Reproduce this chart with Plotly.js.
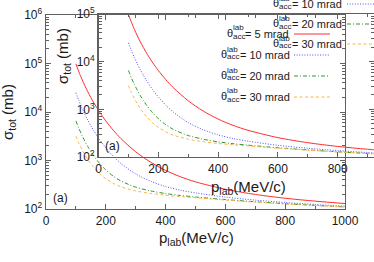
<!DOCTYPE html>
<html><head><meta charset="utf-8">
<script src="https://cdn.plot.ly/plotly-3.0.1.min.js"></script>
<style>html,body{margin:0;padding:0;background:#fff}#chart{width:374px;height:262px}</style>
</head><body><div id="chart"></div>
<script>
// ---- data ----
const pLab = [100,110,120,130,140,150,160,180,200,225,250,300,350,400,450,500,600,700,800,900,1000];
const sigma5  = [97960,67180,47640,34750,25990,19840,15430,9787,6545,4205,2858,1512,922,625,461,363,255,199.5,166.6,145.2,129.6];
const sigma10 = [24850,17120,12210,8958,6750,5197,4083,2648,1822,1223,876,528,373,291,244,215,176,152.6,136.2,124.1,114.2];
const sigma20 = [6541,4581,3332,2499,1933,1530,1241,860,639,476,380,282,236,208,190,177,156.5,140.9,128.5,118.8,110.3];
const sigma30 = [3157,2264,1692,1305,1042,852,715,529,420,338,288,236,210,192,180,170.5,152.9,138.7,127.1,117.8,109.6];
const thetaLabels = ['5','10','20','30'];
const yTickValsMain = [1e2,1e3,1e4,1e5,1e6];
const yTickTextMain = ['10<sup>2</sup>','10<sup>3</sup>','10<sup>4</sup>','10<sup>5</sup>','10<sup>6</sup>'];
const yTickValsInset = [1e2,1e3,1e4,1e5];
const yTickTextInset = ['10<sup>2</sup>','10<sup>3</sup>','10<sup>4</sup>','10<sup>5</sup>'];

// ---- styles ----
const W = 374, H = 262;
const px = x => x / W, py = y => 1 - y / H;
const FONT = 'Liberation Sans, Arial, sans-serif';
const AX = '#606060';
const TXT = '#1a1a1a';
const colors = ['rgb(255,45,45)','rgb(80,80,255)','rgb(50,150,50)','rgb(255,180,70)'];
const dashes = ['solid','1px,1.6px','4px,2px,1px,2px','3px,2.5px'];
const series = [sigma5, sigma10, sigma20, sigma30];

const minorLog = [];
for (let d = 100; d < 1e6; d *= 10) for (let k = 2; k <= 9; k++) minorLog.push(k * d);

const traces = [];
['', '2'].forEach(ax => {
  series.forEach((s, i) => {
    traces.push({
      x: pLab, y: s, type: 'scatter', mode: 'lines',
      xaxis: 'x' + ax, yaxis: 'y' + ax,
      line: {color: colors[i], width: 1, dash: dashes[i], shape: 'spline', smoothing: 0.8},
      showlegend: false, hoverinfo: 'skip'
    });
  });
});

function xAxis(domain, range, anchor) {
  return {
    domain, range, anchor, type: 'linear',
    showline: true, linecolor: AX, linewidth: 1.4, mirror: 'ticks',
    ticks: 'inside', ticklen: 5, tickcolor: AX, tickwidth: 1,
    tickmode: 'linear', tick0: 0, dtick: 200,
    minor: {ticks: 'inside', ticklen: 3, tickcolor: AX, dtick: 100, tick0: 0, showgrid: false},
    showgrid: false, zeroline: false, automargin: false,
    tickfont: {family: FONT, size: 12, color: TXT}
  };
}
function yAxis(domain, range, anchor, vals, text) {
  return {
    domain, range, anchor, type: 'log',
    showline: true, linecolor: AX, linewidth: 1.4, mirror: 'ticks',
    ticks: 'inside', ticklen: 5, tickcolor: AX, tickwidth: 1,
    tickmode: 'array', tickvals: vals, ticktext: text,
    minor: {ticks: 'inside', ticklen: 3, tickcolor: AX, tickmode: 'array', tickvals: minorLog, showgrid: false},
    showgrid: false, zeroline: false, automargin: false,
    tickfont: {family: FONT, size: 12, color: TXT}
  };
}

const annotations = [];
function ann(text, x, y, size, extra) {
  annotations.push(Object.assign({
    text, x: px(x), y: py(y), xref: 'paper', yref: 'paper',
    xanchor: 'left', yanchor: 'middle', showarrow: false, borderpad: 0,
    font: {family: FONT, size, color: TXT}
  }, extra || {}));
}
// axis titles
ann('σ<sub>tot</sub> (mb)', 8, 112, 15, {xanchor: 'center', textangle: -90});
ann('p<sub>lab</sub>(MeV/c)', 196, 238, 15, {xanchor: 'center'});
ann('σ<sub>tot</sub> (mb)', 63, 56, 15, {xanchor: 'center', textangle: -90});
ann('p<sub>lab</sub>(MeV/c)', 248, 187, 15, {xanchor: 'center'});
ann('(a)', 52, 198, 12);
ann('(a)', 104, 146, 12);

const shapes = [];
function legendEntry(i, thetaX, subX, eqX, yc, lineX0, lineX1) {
  ann('θ', thetaX, yc - 1, 11);
  ann('lab', subX, yc - 6, 8);
  ann('acc', subX, yc + 2, 8);
  ann('= ' + thetaLabels[i] + ' mrad', eqX, yc, 11);
  shapes.push({type: 'line', xref: 'paper', yref: 'paper',
    x0: px(lineX0), x1: px(lineX1), y0: py(yc), y1: py(yc),
    line: {color: colors[i], width: 1, dash: dashes[i]}});
}
// outer legend (top right, partly cut)
legendEntry(1, 272, 277.5, 290.5, 4, 347, 380);
legendEntry(2, 272, 277.5, 290.5, 24, 347, 380);
legendEntry(3, 272, 277.5, 290.5, 44, 347, 380);
// inset legend
legendEntry(0, 226, 232, 244, 34, 294, 330);
legendEntry(1, 220, 226, 239, 55, 294, 330);
legendEntry(2, 220, 226, 239, 76, 294, 330);
legendEntry(3, 220, 226, 239, 97, 294, 330);

const layout = {
  width: W, height: H,
  margin: {l: 0, r: 0, t: 0, b: 0, pad: 0},
  paper_bgcolor: '#fff', plot_bgcolor: 'rgba(0,0,0,0)',
  showlegend: false,
  xaxis: xAxis([px(46), px(345)], [0, 1000], 'y'),
  yaxis: yAxis([py(209), py(15)], [2, 6], 'x', yTickValsMain, yTickTextMain),
  xaxis2: xAxis([px(98.5), 1], [0, (W - 98.5) / 0.299], 'y2'),
  yaxis2: yAxis([py(157), py(14)], [2, 5], 'x2', yTickValsInset, yTickTextInset),
  annotations, shapes
};
Plotly.newPlot('chart', traces, layout, {staticPlot: true, displayModeBar: false});
</script>
</body></html>
